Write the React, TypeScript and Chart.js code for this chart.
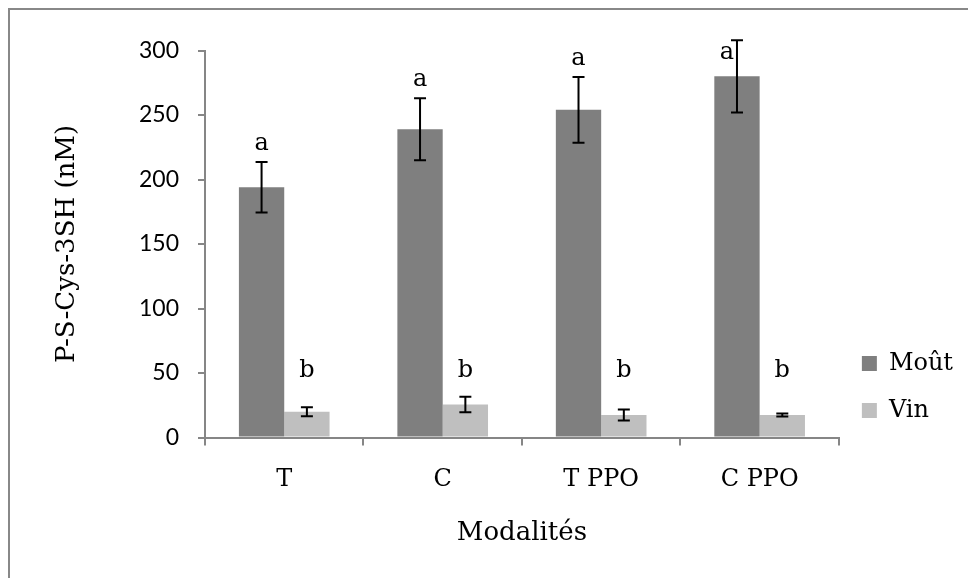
import React, { useEffect, useRef } from 'react';
import { Chart, registerables } from 'chart.js';

Chart.register(...registerables);

// ---- Data ----
const categories = ['T', 'C', 'T PPO', 'C PPO'];
const moutValues = [194, 239, 254, 280];
const moutErrors = [19.5, 24, 25.5, 28];
const vinValues = [20, 25.5, 17.5, 17.5];
const vinErrors = [3.5, 6, 4.3, 1.2];
const moutLetters = ['a', 'a', 'a', 'a'];
const vinLetters = ['b', 'b', 'b', 'b'];
const vinLetterLevel = 52;
const yMin = 0;
const yMax = 300;
const yStep = 50;

const SERIF = '"DejaVu Serif", serif';
const SANS = 'Lato, "Liberation Sans", sans-serif';

const errorBarPlugin = {
  id: 'errorBarsAndLetters',
  afterDatasetsDraw(chart: any) {
    const ctx = chart.ctx;
    const yScale = chart.scales.y;
    const area = chart.chartArea;
    chart.data.datasets.forEach((ds: any, di: number) => {
      const meta = chart.getDatasetMeta(di);
      meta.data.forEach((bar: any, i: number) => {
        const v = ds.data[i];
        const e = ds.errors[i];
        const top = yScale.getPixelForValue(v + e);
        const bot = yScale.getPixelForValue(v - e);
        const x = bar.x;
        ctx.save();
        ctx.strokeStyle = '#000';
        ctx.lineWidth = 2;
        ctx.beginPath();
        ctx.moveTo(x, top);
        ctx.lineTo(x, bot);
        ctx.moveTo(x - 6, top);
        ctx.lineTo(x + 6, top);
        ctx.moveTo(x - 6, bot);
        ctx.lineTo(x + 6, bot);
        ctx.stroke();

        const letter = ds.letters[i];
        let lx = x;
        let ly: number;
        if (ds.letterLevel !== undefined) {
          ly = yScale.getPixelForValue(ds.letterLevel);
        } else {
          ly = top - 18;
          if (ly < area.top) {
            ly = area.top + 2;
            lx = x - 10;
          }
        }
        ctx.fillStyle = '#000';
        ctx.font = `24px ${SERIF}`;
        ctx.textAlign = 'center';
        ctx.textBaseline = 'middle';
        ctx.fillText(letter, lx, ly);
        ctx.restore();
      });
    });
  },
};

export default function App() {
  const canvasRef = useRef<HTMLCanvasElement | null>(null);

  useEffect(() => {
    document.documentElement.style.overflow = 'hidden';
    document.body.style.overflow = 'hidden';
    const canvas = canvasRef.current;
    if (!canvas) return;
    const chart = new Chart(canvas, {
      type: 'bar',
      data: {
        labels: categories,
        datasets: [
          {
            label: 'Moût',
            data: moutValues,
            errors: moutErrors,
            letters: moutLetters,
            backgroundColor: '#7f7f7f',
            borderWidth: 0,
            categoryPercentage: 0.572,
            barPercentage: 1,
          } as any,
          {
            label: 'Vin',
            data: vinValues,
            errors: vinErrors,
            letters: vinLetters,
            letterLevel: vinLetterLevel,
            backgroundColor: '#bfbfbf',
            borderWidth: 0,
            categoryPercentage: 0.572,
            barPercentage: 1,
          } as any,
        ],
      },
      options: {
        animation: false,
        responsive: true,
        maintainAspectRatio: false,
        layout: { padding: { top: 40.5, right: 13, bottom: 0, left: 0 } },
        plugins: {
          tooltip: { enabled: false },
          legend: {
            position: 'right',
            align: 'center',
            title: { display: true, text: '', padding: { top: 131.5, bottom: 0 }, font: { size: 10 } },
            labels: {
              boxWidth: 15,
              boxHeight: 15,
              padding: 23,
              color: '#000',
              font: { family: SERIF, size: 24 },
            },
          },
        },
        scales: {
          x: {
            ticks: { color: '#000', font: { family: SERIF, size: 24 }, padding: 20, maxRotation: 0 },
            grid: { drawOnChartArea: false, drawTicks: true, tickLength: 8, color: '#868686', lineWidth: 2, offset: true },
            border: { color: '#868686', width: 2 },
            title: {
              display: true,
              text: 'Modalités',
              color: '#000',
              font: { family: SERIF, size: 26 },
              padding: { top: 0, bottom: 31.4 },
            },
            afterFit: (s: any) => {
              s.height = 142.5;
            },
          },
          y: {
            min: yMin,
            max: yMax,
            ticks: { stepSize: yStep, color: '#000', font: { family: SANS, size: 23 }, padding: 19 },
            grid: { drawOnChartArea: false, drawTicks: true, tickLength: 7, color: '#868686', lineWidth: 2 },
            border: { color: '#868686', width: 2 },
            title: {
              display: true,
              text: 'P-S-Cys-3SH (nM)',
              color: '#000',
              font: { family: SERIF, size: 26 },
              padding: { top: 41.4, bottom: 0 },
            },
            afterFit: (s: any) => {
              s.width = 195;
            },
          },
        },
      } as any,
      plugins: [errorBarPlugin],
    });
    return () => chart.destroy();
  }, []);

  return (
    <div
      style={{
        position: 'relative',
        width: 966,
        height: 570,
        borderTop: '2px solid #888',
        borderLeft: '2px solid #888',
        background: '#fff',
      }}
    >
      <canvas ref={canvasRef} />
    </div>
  );
}
